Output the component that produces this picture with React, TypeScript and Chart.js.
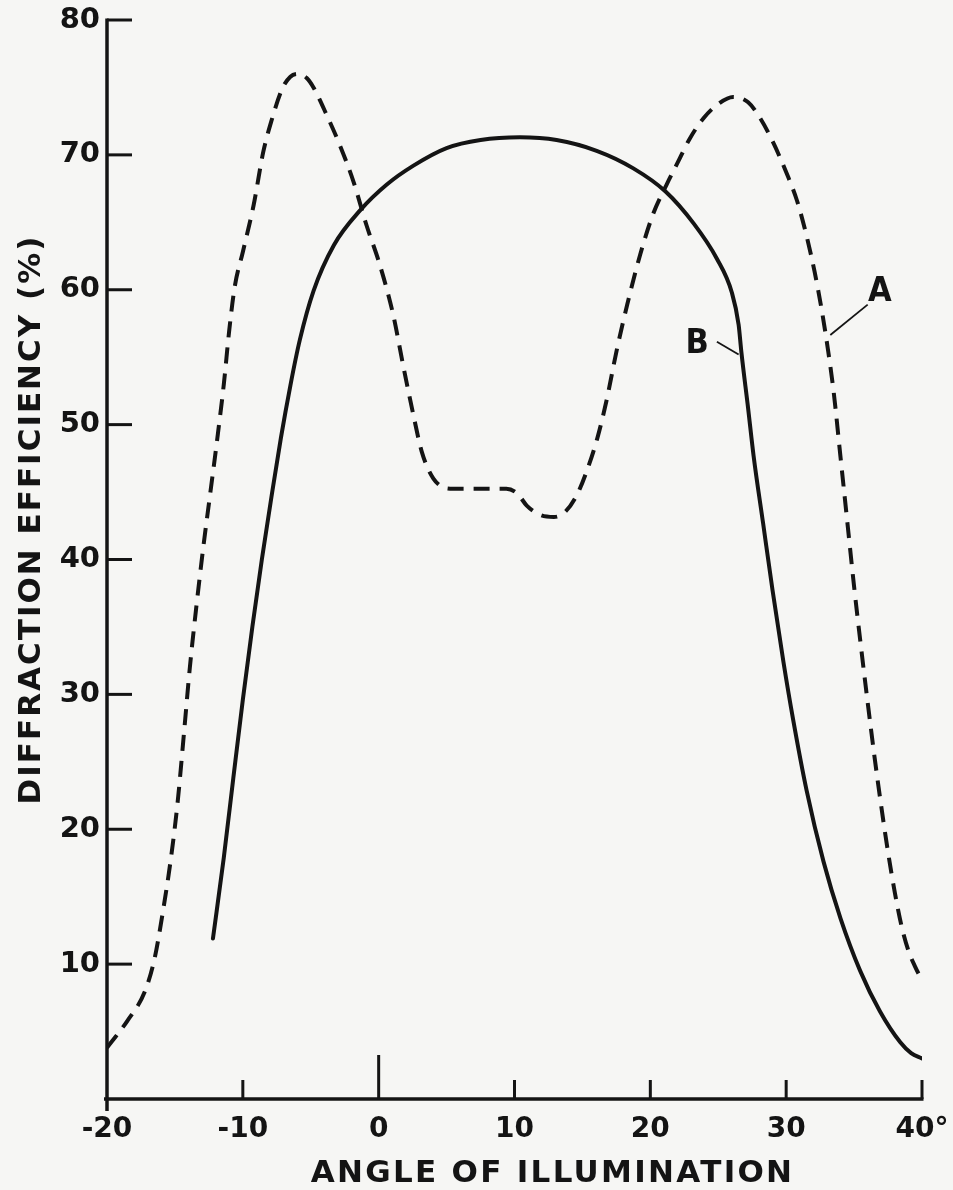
import React, { useEffect, useRef } from "react";
import { Chart, registerables } from "chart.js";

Chart.register(...registerables);

// ---------- data ----------
const angleTicks = [-20, -10, 0, 10, 20, 30, 40];
const angleTickLabels = ["-20", "-10", "0", "10", "20", "30", "40°"];
const efficiencyTicks = [0, 10, 20, 30, 40, 50, 60, 70, 80];
const efficiencyTickLabels = ["", "10", "20", "30", "40", "50", "60", "70", "80"];

// Curve A (dashed)
const curveAAngle = [
  -20, -18.5, -17.2, -16.5, -15.9, -15.3, -14.8, -14.3, -13.9, -13.4, -12.9, -12.4,
  -11.9, -11.4, -11.0, -10.6, -10.0, -9.2, -8.5, -7.9, -7.1, -6.5, -5.9, -5.3, -4.8,
  -3.8, -2.85, -1.85, -0.9, 0.1, 1.08, 1.8, 2.56, 3.17, 4.03, 5.26, 7.5, 9.4, 10.2,
  10.9, 11.9, 12.9, 13.7, 14.6, 15.3, 16.1, 16.8, 17.5, 18.3, 19.25, 20.2, 21.2, 22.0,
  22.9, 23.9, 24.9, 26.1, 27.2, 28.1, 29.05, 30.05, 30.8, 31.5, 32.1, 32.6, 33.1, 33.5,
  34.0, 34.5, 35.0, 35.5, 36.0, 36.5, 37.0, 37.5, 38.0, 38.5, 39.0, 39.5, 40.0,
];
const curveAEfficiency = [
  3.8, 5.8, 8.0, 10.4, 13.8, 17.8, 22.0, 27.5, 32.0, 36.7, 41.0, 44.9,
  48.8, 53.0, 57.0, 60.2, 62.8, 66.3, 70.2, 72.5, 74.9, 75.8, 76.0, 75.7, 75.0,
  72.9, 70.7, 68.0, 64.8, 61.8, 58.1, 54.4, 50.7, 48.0, 46.0, 45.25, 45.25, 45.25, 44.9,
  44.0, 43.3, 43.15, 43.5, 44.8, 46.5, 49.0, 51.9, 55.4, 58.9, 62.6, 65.6, 67.8, 69.4,
  71.2, 72.7, 73.7, 74.3, 73.9, 72.7, 70.9, 68.6, 66.6, 64.0, 61.3, 58.6, 55.4, 52.4,
  47.6, 42.8, 38.0, 33.6, 29.4, 25.4, 21.7, 18.3, 15.3, 12.8, 11.0, 9.8, 8.8,
];

// Curve B (solid)
const curveBAngle = [
  -12.2, -11.4, -10.7, -10.0, -9.3, -8.6, -7.9, -7.2, -6.5, -5.8, -4.8, -3.3, -1.35,
  0.6, 2.56, 5.0, 7.5, 10.4, 13.1, 16.05, 18.75, 21.1, 23.2, 24.9, 26.0, 26.5, 26.7,
  27.2, 27.6, 28.3, 29.0, 29.8, 30.5, 31.5, 32.75, 34.0, 35.45, 36.9, 38.4, 39.2, 40.0,
];
const curveBEfficiency = [
  11.9, 17.9, 23.8, 29.6, 35.0, 40.0, 44.6, 49.0, 52.9, 56.3, 59.9, 63.3, 65.9,
  67.8, 69.2, 70.5, 71.1, 71.3, 71.1, 70.3, 69.0, 67.3, 64.9, 62.3, 59.8, 57.4, 55.4,
  51.2, 47.7, 42.7, 37.7, 32.4, 28.2, 22.9, 17.6, 13.4, 9.5, 6.5, 4.2, 3.4, 3.0,
];

const xTitle = "ANGLE OF ILLUMINATION";
const yTitle = "DIFFRACTION EFFICIENCY (%)";

// curve labels: text, label anchor, leader start, leader end (data coords)
const curveLabels = [
  { text: "A", at: [36.9, 59.8], from: [36.0, 58.9], to: [33.25, 56.65] },
  { text: "B", at: [23.45, 56.0], from: [24.9, 56.15], to: [26.5, 55.2] },
];

const INK = "#141414";
const PAPER = "#f6f6f4";
const FONT = "'DejaVu Sans', 'Liberation Sans', sans-serif";

const handDrawnPlugin = {
  id: "handDrawn",
  beforeDraw(chart: any) {
    const { ctx, width, height } = chart;
    ctx.save();
    ctx.fillStyle = PAPER;
    ctx.fillRect(0, 0, width, height);
    ctx.restore();
  },
  afterDatasetsDraw(chart: any) {
    const { ctx, chartArea } = chart;
    const xs = chart.scales.x;
    const ys = chart.scales.y;
    ctx.save();
    ctx.strokeStyle = INK;
    ctx.fillStyle = INK;
    ctx.lineCap = "butt";

    const x0 = xs.getPixelForValue(angleTicks[0]);
    const yb = ys.getPixelForValue(efficiencyTicks[0]);
    const yTop = ys.getPixelForValue(efficiencyTicks[efficiencyTicks.length - 1]);
    const xEnd = xs.getPixelForValue(angleTicks[angleTicks.length - 1]);

    // axes
    ctx.lineWidth = 3.5;
    ctx.beginPath();
    ctx.moveTo(x0, yTop - 1.5);
    ctx.lineTo(x0, yb + 12);
    ctx.stroke();
    ctx.beginPath();
    ctx.moveTo(x0 - 3, yb);
    ctx.lineTo(xEnd + 1.5, yb);
    ctx.stroke();

    // y ticks (inward)
    ctx.lineWidth = 3;
    efficiencyTicks.forEach((v) => {
      if (v === efficiencyTicks[0]) return;
      const py = ys.getPixelForValue(v);
      ctx.beginPath();
      ctx.moveTo(x0, py);
      ctx.lineTo(x0 + 25, py);
      ctx.stroke();
    });

    // x ticks (inward, upward)
    angleTicks.forEach((v) => {
      if (v === angleTicks[0]) return;
      const px = xs.getPixelForValue(v);
      const len = v === 0 ? 44 : 19;
      ctx.beginPath();
      ctx.moveTo(px, yb);
      ctx.lineTo(px, yb - len);
      ctx.stroke();
    });

    // curve labels & leader lines
    ctx.lineWidth = 1.8;
    ctx.font = "bold 34px 'DejaVu Sans Condensed', 'DejaVu Sans', sans-serif";
    ctx.textAlign = "center";
    ctx.textBaseline = "middle";
    curveLabels.forEach((l) => {
      ctx.fillText(l.text, xs.getPixelForValue(l.at[0]), ys.getPixelForValue(l.at[1]));
      ctx.beginPath();
      ctx.moveTo(xs.getPixelForValue(l.from[0]), ys.getPixelForValue(l.from[1]));
      ctx.lineTo(xs.getPixelForValue(l.to[0]), ys.getPixelForValue(l.to[1]));
      ctx.stroke();
    });

    // axis titles
    ctx.font = `bold 31px ${FONT}`;
    (ctx as any).letterSpacing = "2.3px";
    ctx.textAlign = "center";
    ctx.textBaseline = "alphabetic";
    const cx = (chartArea.left + chartArea.right) / 2 + 38;
    ctx.fillText(xTitle, cx, chartArea.bottom + 83);

    ctx.save();
    const cy = (chartArea.top + chartArea.bottom) / 2 - 40;
    ctx.translate(40, cy);
    ctx.rotate(-Math.PI / 2);
    (ctx as any).letterSpacing = "2px";
    ctx.fillText(yTitle, 0, 0);
    ctx.restore();

    ctx.restore();
  },
};

export default function App() {
  const canvasRef = useRef<HTMLCanvasElement | null>(null);

  useEffect(() => {
    document.body.style.margin = "0";
    document.body.style.background = PAPER;
    const canvas = canvasRef.current;
    if (!canvas) return;

    const pointsA = curveAAngle.map((x, i) => ({ x, y: curveAEfficiency[i] }));
    const pointsB = curveBAngle.map((x, i) => ({ x, y: curveBEfficiency[i] }));

    const chart = new Chart(canvas, {
      type: "line",
      data: {
        datasets: [
          {
            label: "A",
            data: pointsA,
            borderColor: INK,
            borderWidth: 4,
            borderDash: [16, 10],
            pointRadius: 0,
            fill: false,
            tension: 0.4,
            cubicInterpolationMode: "monotone",
          },
          {
            label: "B",
            data: pointsB,
            borderColor: INK,
            borderWidth: 4,
            pointRadius: 0,
            fill: false,
            tension: 0.4,
            cubicInterpolationMode: "monotone",
            borderCapStyle: "round",
          },
        ],
      },
      options: {
        animation: false,
        responsive: true,
        maintainAspectRatio: false,
        layout: { padding: { top: 20, right: 31, left: 0, bottom: 0 } },
        plugins: {
          legend: { display: false },
          tooltip: { enabled: false },
          title: { display: false },
        },
        scales: {
          x: {
            type: "linear",
            min: angleTicks[0],
            max: angleTicks[angleTicks.length - 1],
            grid: { display: false, drawTicks: false },
            border: { display: false },
            afterBuildTicks: (s: any) => {
              s.ticks = angleTicks.map((v) => ({ value: v }));
            },
            afterFit: (s: any) => {
              s.height = 91;
              s.paddingLeft = 0;
              s.paddingRight = 0;
            },
            ticks: {
              autoSkip: false,
              maxRotation: 0,
              padding: 14,
              color: INK,
              font: { family: FONT, size: 28, weight: "bold" },
              callback: (v: any) => {
                const i = angleTicks.indexOf(Number(v));
                return i >= 0 ? angleTickLabels[i] : "";
              },
            },
          },
          y: {
            type: "linear",
            min: efficiencyTicks[0],
            max: efficiencyTicks[efficiencyTicks.length - 1],
            grid: { display: false, drawTicks: false },
            border: { display: false },
            afterBuildTicks: (s: any) => {
              s.ticks = efficiencyTicks.map((v) => ({ value: v }));
            },
            afterFit: (s: any) => {
              s.width = 107;
              s.paddingTop = 0;
              s.paddingBottom = 0;
            },
            ticks: {
              autoSkip: false,
              padding: 7,
              color: INK,
              font: { family: FONT, size: 29, weight: "bold" },
              callback: (v: any) => {
                const i = efficiencyTicks.indexOf(Number(v));
                return i >= 0 ? efficiencyTickLabels[i] : "";
              },
            },
          },
        },
      },
      plugins: [handDrawnPlugin],
    } as any);

    return () => {
      chart.destroy();
    };
  }, []);

  return (
    <div style={{ position: "relative", width: "953px", height: "1190px", background: PAPER }}>
      <canvas ref={canvasRef} />
    </div>
  );
}
